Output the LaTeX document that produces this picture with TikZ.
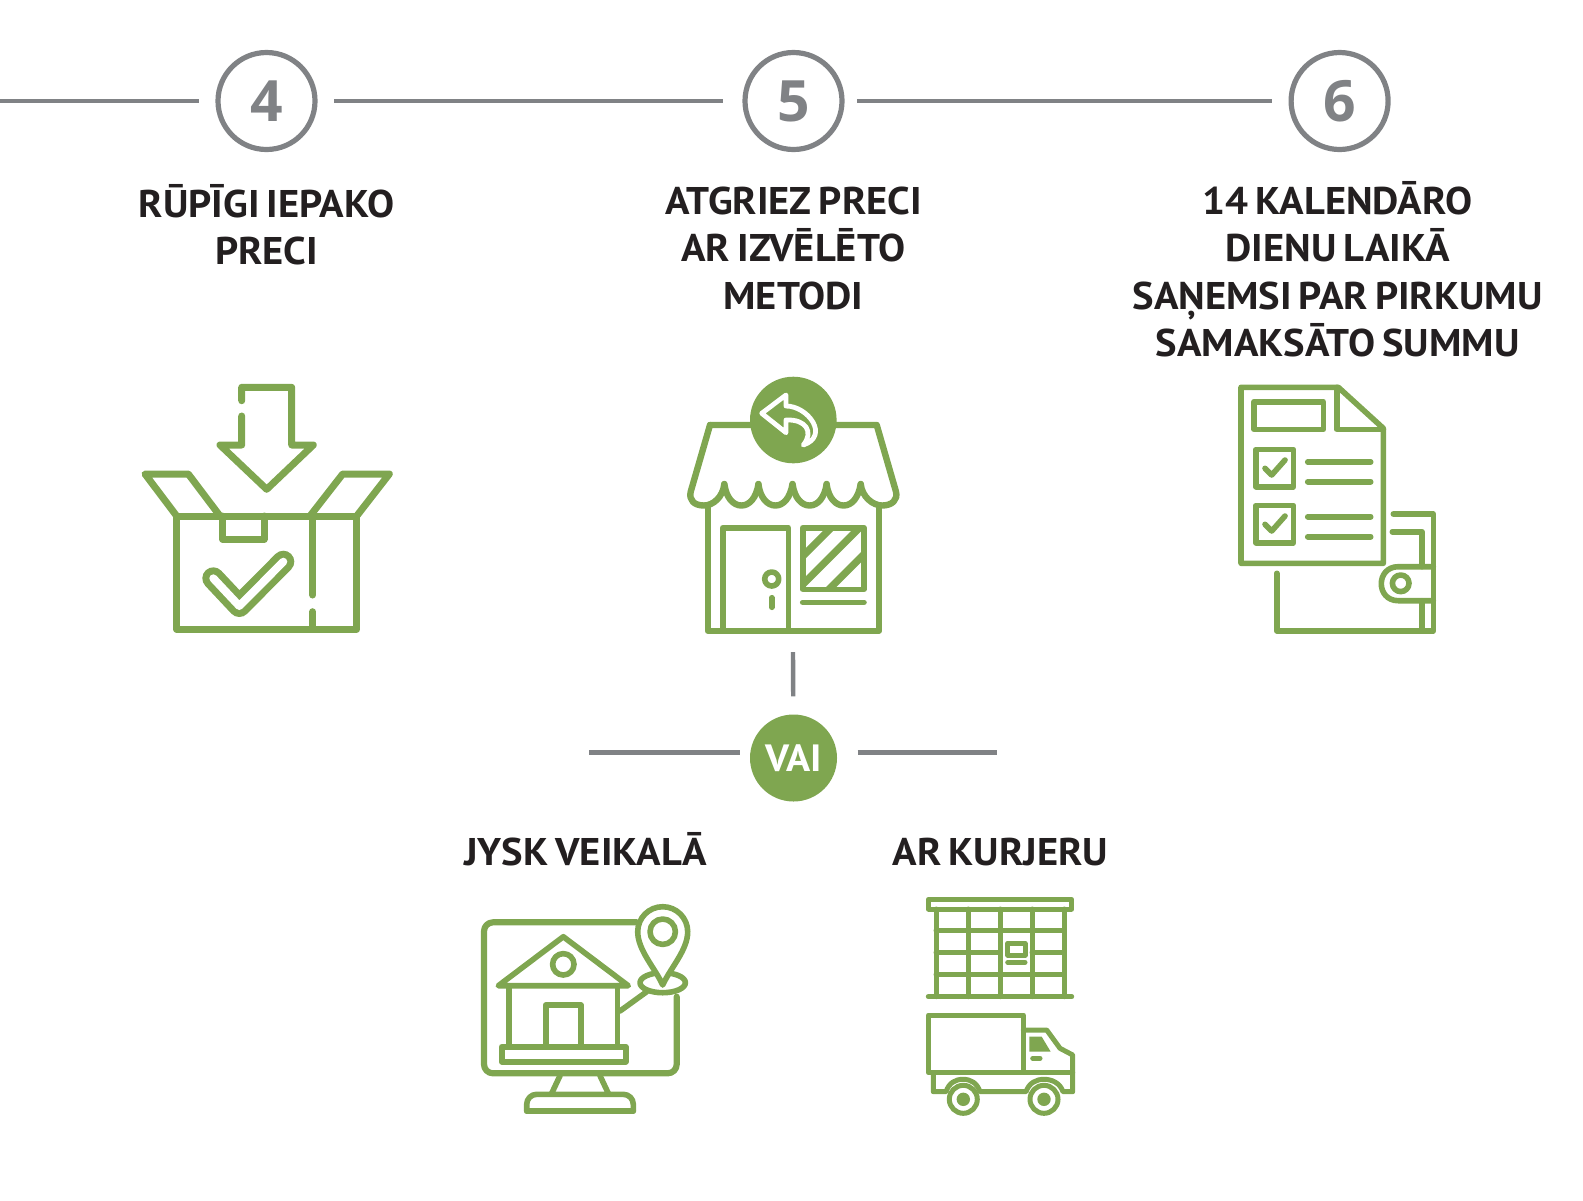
\documentclass[tikz,border=0pt]{standalone}
\usepackage{fontspec}
\setmainfont{PT Sans}[FakeStretch=1.05, WordSpace=0.7]
\newfontfamily\numfont{Open Sans}
\definecolor{jgreen}{HTML}{7FA650}
\definecolor{jgrey}{HTML}{808285}
\definecolor{jtext}{HTML}{231F20}
\tikzset{
	stepnum/.style={circle, draw=jgrey, line width=2.6pt, minimum size=48.5pt, inner sep=0pt, outer sep=9.5pt,
		text=jgrey, font=\fontsize{28.5}{28.5}\selectfont\numfont\bfseries},
	orcircle/.style={circle, fill=jgreen, minimum size=43.5pt, inner sep=0pt, text=white, font=\fontsize{19}{19}\selectfont\bfseries},
	greyline/.style={draw=jgrey, line width=2.2pt},
	caption/.style={align=center, text=jtext, inner sep=0pt, font=\fontsize{19.3}{23.75}\selectfont\bfseries},
	icon/.style={draw=jgreen, line width=3.5pt, line join=round, line cap=round},
	iconshop/.style={icon, line width=3.2pt},
	iconthin/.style={icon, line width=2.8pt},
	iconfine/.style={icon, line width=2.5pt},
}
\begin{document}
\begin{tikzpicture}[x=0.5pt, y=-0.5pt]
\path [use as bounding box] (0,0) rectangle (1583,1200);

% steps along the top
\coordinate (linestart) at (0,101);
\node[stepnum] (step4) at (266.5,101) {4};
\node[stepnum] (step5) at (793.5,101) {5};
\node[stepnum] (step6) at (1339.6,101) {6};
\draw[greyline] (linestart) -- (step4);
\draw[greyline, shorten >=1.5pt] (step4) -- (step5);
\draw[greyline, shorten <=-2pt] (step5) -- (step6);

\node[caption] (cap4) at (266.5,224.5) {RŪPĪGI IEPAKO\\PRECI};
\node[caption] (cap5) at (793.5,248) {ATGRIEZ PRECI\\AR IZVĒLĒTO\\METODI};
\node[caption] (cap6) at (1337.6,269) {14 KALENDĀRO\\DIENU LAIKĀ\\SAŅEMSI PAR PIRKUMU\\SAMAKSĀTO SUMMU};

% box
\draw[icon] (176.7,516) rectangle (356.7,629.3);
\draw[icon] (176.7,516) -- (145,474) -- (188.3,474) -- (220,516);
\draw[icon] (310,516) -- (342.7,474) -- (389.3,474) -- (356.7,516);
\draw[icon] (222.7,516) -- (222.7,539.3) -- (264,539.3) -- (264,516);
\draw[icon] (312.7,516) -- (312.7,595) (312.7,611.7) -- (312.7,629.3);
\draw[icon, double=white, double distance=4pt] (213.3,578.3) -- (239.3,606) -- (283.3,561.7);
\draw[icon] (241.7,400.7) -- (241.7,387.3) -- (291.7,387.3) -- (291.7,445) -- (313.3,445) -- (266.7,489.3)
	-- (220,445) -- (241.7,445) -- (241.7,416);

% shop
\draw[iconshop] (707.7,505.7) -- (707.7,630.7) -- (879,630.7) -- (879,505.7);
\draw[iconshop] (710,425) -- (876.7,425) -- (896,491.7) .. controls (898,500) and (892,505.5) .. (882,505.5)
	.. controls (873,505.5) and (862,497) .. (860.7,484);
\draw[iconshop] (710,425) -- (690.7,491.7) .. controls (688.7,500) and (694,505.5) .. (704,505.5)
	.. controls (713,505.5) and (723,497) .. (724.3,484);
\foreach \sx in {724.3,758.3,792.5,826.5}
	\draw[iconshop] (\sx,484) .. controls (\sx+2,498) and (\sx+9,505.5) .. (\sx+17.2,505.5)
		.. controls (\sx+25,505.5) and (\sx+32,498) .. (\sx+34.2,484);
\draw[iconthin] (722.7,630.7) -- (722.7,527.7) -- (788.3,527.7) -- (788.3,630.7);
\draw[iconthin] (771.7,579) circle [radius=7];
\draw[iconthin] (771.7,597.7) -- (771.7,607.3);
\draw[iconthin] (802.7,527.7) rectangle (864,589.3);
\begin{scope}
	\clip (802.7,527.7) rectangle (864,589.3);
	\foreach \st in {1359,1387.3,1418.3}
		\draw[draw=jgreen, line width=3.6pt] (\st-600,600) -- (\st-520,520);
\end{scope}
\draw[iconthin] (802.7,602.3) -- (864,602.3);
\fill[jgreen] (793.3,420) circle [radius=43.3];
\draw[icon, draw=white, line width=2.4pt] (786,406) -- (786,395) -- (761.7,413.3) -- (786,432.7) -- (786,420)
	.. controls (806,419) and (814,432) .. (803.3,445) .. controls (830,436) and (808,406) .. (786,406) -- cycle;

% document and wallet
\draw[iconthin] (1241,387.3) -- (1338.3,387.3) -- (1383.3,428.3) -- (1383.3,563.3) -- (1241,563.3) -- cycle;
\draw[iconthin] (1336.7,387.3) -- (1336.7,429.3) -- (1383.3,429.3);
\draw[iconthin] (1254,401.7) rectangle (1323.3,429.3);
\foreach \cy in {0,56} {
	\draw[iconthin] (1256,449.3+\cy) rectangle (1293.3,486.7+\cy);
	\draw[iconthin] (1265,468.3+\cy) -- (1271.7,475+\cy) -- (1285,460+\cy);
}
\foreach \ly in {462,481.7,516.7,536.7}
	\draw[iconthin] (1307.7,\ly) -- (1370.7,\ly);
\draw[iconthin] (1276.7,573.3) -- (1276.7,630.7) -- (1433.3,630.7) -- (1433.3,514) -- (1393.3,514);
\draw[iconthin] (1392.3,531.7) -- (1422,531.7) -- (1422,566.7) (1422,600.7) -- (1422,630.7);
\draw[iconthin] (1433.3,566.7) -- (1398.3,566.7) .. controls (1375.6,566.7) and (1375.6,600.7) .. (1398.3,600.7) -- (1433.3,600.7);
\draw[iconthin] (1400.7,583.3) circle [radius=8.3];

% vai junction
\coordinate (vaitop) at (793,652);
\coordinate (vaileft) at (589,752.3);
\coordinate (vairight) at (996.5,752.3);
\coordinate (vailend) at (739.7,752.3);
\coordinate (vairstart) at (857.6,752.3);
\node[orcircle] (vai) at (793.5,758) {VAI};
\draw[greyline, shorten >=8.85pt] (vaitop) -- (vai);
\draw[greyline] (vaileft) -- (vailend);
\draw[greyline] (vairstart) -- (vairight);
\node[caption] (capshop) at (585.5,849) {JYSK VEIKALĀ};
\node[caption] (capcourier) at (1000.4,852) {AR KURJERU};

% monitor with house and pin
\draw[iconthin, line width=3.1pt, rounded corners=4.5pt] (636.7,922.3) -- (484,922.3) -- (484,1073.3) -- (676.7,1073.3) -- (676.7,996.7);
\draw[iconthin] (560,1075.7) -- (551.7,1093.3) (600,1075.7) -- (608.3,1093.3);
\draw[iconthin, rounded corners=5pt] (526.7,1111) -- (526.7,1094.3) -- (633.3,1094.3) -- (633.3,1111);
\draw[iconthin] (526.7,1111) -- (633.3,1111);
\draw[iconthin] (498.3,985.7) -- (563.3,936.7) -- (628.3,985.7) -- cycle;
\draw[iconthin] (563.3,964.3) circle [radius=10.7];
\draw[iconthin] (509,985.7) -- (509,1046.7) (617.3,985.7) -- (617.3,1046.7);
\draw[iconthin] (545.7,1046.7) -- (545.7,1005) -- (581,1005) -- (581,1046.7);
\draw[iconthin] (501.7,1046.7) rectangle (625.7,1061.7);
\draw[iconthin] (620,1011) -- (646.7,991.7);
\draw[iconthin] (662.7,982.7) ellipse [x radius=22.7, y radius=10];
\draw[iconthin, fill=white] (662.7,985) .. controls (655,968) and (637.7,950) .. (637.7,931.7)
	.. controls (637.7,917.9) and (648.9,906.7) .. (662.7,906.7)
	.. controls (676.5,906.7) and (687.7,917.9) .. (687.7,931.7)
	.. controls (687.7,950) and (670.4,968) .. (662.7,985) -- cycle;
\draw[iconthin] (662.7,931.7) circle [radius=12.7];

% parcel locker
\draw[iconfine] (928.3,899.3) rectangle (1071.7,909);
\foreach \lx in {936,968,1000,1032,1064}
	\draw[iconfine] (\lx,909) -- (\lx,996.7);
\draw[iconfine] (936,930.7) -- (1064,930.7) (936,974.7) -- (1064,974.7);
\draw[iconfine] (936,952.7) -- (1000,952.7) (1032,952.7) -- (1064,952.7);
\draw[iconfine] (928.3,996.7) -- (1071.7,996.7);
\draw[iconfine] (1007.7,943.3) rectangle (1025,955);
\draw[iconfine] (1007.7,962.3) -- (1025,962.3);

% truck
\draw[iconfine] (928.3,1015) rectangle (1023.3,1072.7);
\draw[iconfine] (1023.3,1030) -- (1046.7,1030) -- (1060,1048.3) -- (1072.7,1055) -- (1072.7,1091.7) -- (1063,1091.7)
	.. controls (1060,1083) and (1052,1079.3) .. (1044,1079.3) .. controls (1036,1079.3) and (1029,1083) .. (1026,1091.7)
	-- (980,1091.7) .. controls (977,1083) and (971,1079.3) .. (963,1079.3) .. controls (955,1079.3) and (949,1083) .. (946,1091.7)
	-- (933.3,1091.7) -- (933.3,1072.7);
\draw[iconfine] (1023.3,1072.7) -- (1072.7,1072.7);
\fill[jgreen] (1029.3,1036.7) -- (1041.7,1036.7) -- (1050.7,1051.7) -- (1029.3,1051.7) -- cycle;
\draw[iconfine] (1032.7,1058.3) -- (1040,1058.3);
\foreach \wx in {963.3,1044} {
	\draw[iconfine, fill=white] (\wx,1099.3) circle [radius=14];
	\fill[jgreen] (\wx,1099.3) circle [radius=6.7];
}
\end{tikzpicture}
\end{document}
